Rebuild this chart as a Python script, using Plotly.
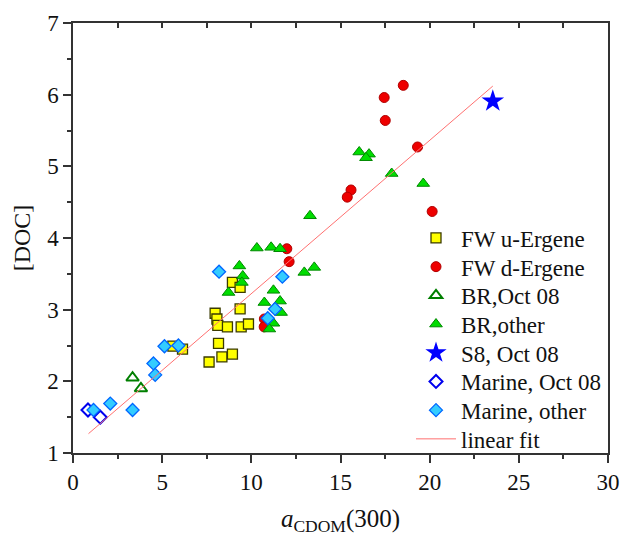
import plotly.graph_objects as go

# ---------------- data ----------------
fw_u_x = [5.60, 6.14, 8.94, 9.37, 9.37, 7.97, 8.07, 8.12, 8.66, 9.43, 9.84, 8.16, 7.63, 8.35, 8.94]
fw_u_y = [2.49, 2.45, 3.38, 3.31, 3.01, 2.95, 2.87, 2.78, 2.76, 2.76, 2.80, 2.53, 2.27, 2.34, 2.38]

fw_d_x = [11.99, 12.12, 10.73, 10.72, 15.59, 15.38, 18.52, 17.45, 17.51, 19.32, 20.14]
fw_d_y = [3.85, 3.67, 2.87, 2.76, 4.67, 4.57, 6.13, 5.96, 5.64, 5.27, 4.37]

br_oct_x = [3.34, 3.81]
br_oct_y = [2.05, 1.90]

br_other_x = [10.31, 11.11, 11.61, 9.33, 9.52, 9.47, 8.72, 12.97, 13.53, 11.24, 10.73, 11.61,
              11.67, 11.24, 11.01, 13.29, 16.05, 16.60, 16.43, 17.87, 19.64]
br_other_y = [3.86, 3.87, 3.85, 3.61, 3.47, 3.38, 3.24, 3.52, 3.59, 3.27, 3.10, 3.12,
              2.96, 2.81, 2.73, 4.31, 5.20, 5.17, 5.12, 4.90, 4.76]

s8_x = [23.54]
s8_y = [5.91]

marine_oct_x = [0.84, 1.53]
marine_oct_y = [1.60, 1.50]

marine_other_x = [1.15, 2.09, 3.34, 4.51, 4.61, 5.13, 5.91, 8.19, 11.74, 11.33, 10.92]
marine_other_y = [1.60, 1.69, 1.60, 2.25, 2.09, 2.49, 2.50, 3.53, 3.46, 3.01, 2.88]

fit_x = [0.87, 23.54]
fit_y = [1.27, 6.12]

x_ticks = [0, 5, 10, 15, 20, 25, 30]
y_ticks = [1, 2, 3, 4, 5, 6, 7]

FONT = "Liberation Serif"
axis_col = "#333333"

# legend layout (one small legend per entry so spacing matches)
W, H = 623, 536
M_L, M_R, M_T, M_B = 73, 15, 23, 83
plot_h = H - M_T - M_B
leg_first_px = 238.0
leg_step_px = 28.7
leg_left_px = 411.0

def leg_pos(i):
    py = leg_first_px + i * leg_step_px
    return (leg_left_px - M_L) / (W - M_L - M_R), (H - M_B - py) / plot_h

def legend_name(i):
    return "legend" if i == 0 else f"legend{i + 1}"

fig = go.Figure()

# the fit line is drawn against the identical-range top axis, which carries the inward top ticks
fig.add_trace(go.Scatter(x=fit_x, y=fit_y, mode="lines", name="linear fit", xaxis="x2",
                         line=dict(color="#FF7070", width=1), legend=legend_name(7)))

fig.add_trace(go.Scatter(x=fw_u_x, y=fw_u_y, mode="markers", name="FW u-Ergene", legend=legend_name(0),
                         marker=dict(symbol="square", size=10, color="#FFFF00",
                                     line=dict(color="#3A3A00", width=1.3))))
fig.add_trace(go.Scatter(x=fw_d_x, y=fw_d_y, mode="markers", name="FW d-Ergene", legend=legend_name(1),
                         marker=dict(symbol="circle", size=10, color="#EE0000",
                                     line=dict(color="#B00000", width=1))))
fig.add_trace(go.Scatter(x=br_oct_x, y=br_oct_y, mode="markers", name="BR,Oct 08", legend=legend_name(2),
                         marker=dict(symbol="triangle-up-open", size=11, color="#007F00",
                                     line=dict(color="#007F00", width=2))))
fig.add_trace(go.Scatter(x=br_other_x, y=br_other_y, mode="markers", name="BR,other", legend=legend_name(3),
                         marker=dict(symbol="triangle-up", size=11, color="#00DD00",
                                     line=dict(color="#008800", width=1))))
fig.add_trace(go.Scatter(x=s8_x, y=s8_y, mode="markers", name="S8, Oct 08", legend=legend_name(4),
                         marker=dict(symbol="star", size=17, color="#0000FF",
                                     line=dict(color="#0000FF", width=0))))
fig.add_trace(go.Scatter(x=marine_oct_x, y=marine_oct_y, mode="markers", name="Marine, Oct 08", legend=legend_name(5),
                         marker=dict(symbol="diamond-open", size=10, color="#0000EE",
                                     line=dict(color="#0000EE", width=2))))
fig.add_trace(go.Scatter(x=marine_other_x, y=marine_other_y, mode="markers", name="Marine, other", legend=legend_name(6),
                         marker=dict(symbol="diamond", size=10, color="#33CCFF",
                                     line=dict(color="#0066FF", width=1.3))))

legends = {}
for i in range(8):
    lx, ly = leg_pos(i)
    legends[legend_name(i)] = dict(x=lx, y=ly, xanchor="left", yanchor="middle",
                                   bgcolor="rgba(0,0,0,0)", borderwidth=0, itemwidth=40,
                                   font=dict(family=FONT, size=23, color="#111111"))

fig.update_layout(
    width=W, height=H,
    margin=dict(l=M_L, r=M_R, t=M_T, b=M_B),
    paper_bgcolor="white", plot_bgcolor="white",
    font=dict(family=FONT, size=23, color="#111111"),
    showlegend=True,
    **legends,
    xaxis=dict(range=[0, 30], tickvals=x_ticks, ticks="outside", ticklen=8, tickwidth=1.5,
               tickcolor=axis_col, showline=True, linecolor=axis_col, linewidth=1.5,
               showgrid=False, zeroline=False, mirror=True, automargin=False,
               minor=dict(dtick=2.5, ticks="outside", ticklen=4, tickwidth=1.5, tickcolor=axis_col),
               title=dict(text="<i>a</i><sub>CDOM</sub>(300)", font=dict(size=25), standoff=15)),
    xaxis2=dict(range=[0, 30], overlaying="x", side="top", anchor="y", dtick=2.5, tick0=0,
                ticks="inside", ticklen=5, tickwidth=1.5, tickcolor=axis_col,
                showticklabels=False, showline=False,
                showgrid=False, zeroline=False, automargin=False),
    yaxis=dict(range=[1, 7], tickvals=y_ticks, ticks="outside", ticklen=8, tickwidth=1.5,
               tickcolor=axis_col, showline=True, linecolor=axis_col, linewidth=1.5,
               showgrid=False, zeroline=False, mirror=True, automargin=False,
               minor=dict(dtick=0.5, ticks="outside", ticklen=4, tickwidth=1.5, tickcolor=axis_col),
               title=dict(text="[DOC]", font=dict(size=24), standoff=10)),
)

fig.write_html("out.html")
